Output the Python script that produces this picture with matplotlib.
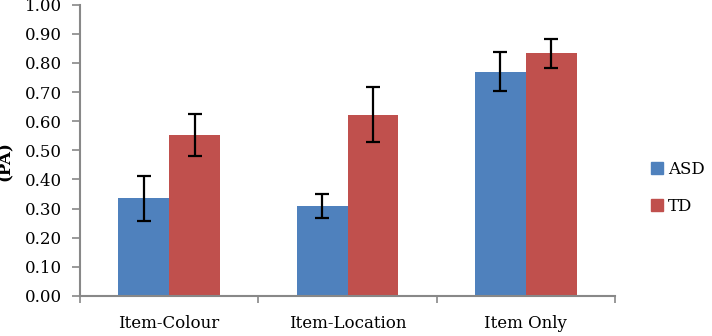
import matplotlib
matplotlib.use("Agg")
import matplotlib.pyplot as plt
import numpy as np
from matplotlib.patches import Patch

categories = ["Item-Colour", "Item-Location", "Item Only"]
asd_values = [0.335, 0.310, 0.770]
td_values = [0.553, 0.623, 0.833]
asd_err = [0.077, 0.041, 0.067]
td_err = [0.072, 0.094, 0.050]
y_ticks = [0.0, 0.1, 0.2, 0.3, 0.4, 0.5, 0.6, 0.7, 0.8, 0.9, 1.0]

blue = "#4F81BD"
red = "#C0504D"
font = "DejaVu Serif"
plt.rcParams["font.family"] = font

fig = plt.figure(figsize=(7.12, 3.36), dpi=100)
ax = fig.add_axes([80/712, 1-296/336, (615-80)/712, (296-4.7)/336])

x = np.arange(len(categories))
w = 0.285
ekw = dict(elinewidth=1.6, capthick=1.6, ecolor="black")
ax.bar(x - w/2, asd_values, w, color=blue, yerr=asd_err, capsize=5, error_kw=ekw, label="ASD")
ax.bar(x + w/2, td_values, w, color=red, yerr=td_err, capsize=5, error_kw=ekw, label="TD")

ax.set_xlim(-0.5, len(categories) - 0.5)
ax.set_ylim(0, 1.0)
ax.set_yticks(y_ticks)
ax.set_yticklabels([f"{v:.2f}" for v in y_ticks], fontsize=12)
ax.set_xticks(np.arange(len(categories) + 1) - 0.5)
ax.set_xticklabels([])
ax.set_xticks(x, minor=True)
ax.set_xticklabels(categories, minor=True, fontsize=12)
ax.tick_params(axis="x", which="minor", length=0, pad=14)
ax.tick_params(axis="x", which="major", length=5, color="#888888", width=1.2)
ax.tick_params(axis="y", length=6, color="#888888", width=1.2, pad=7)

for s in ["top", "right"]:
    ax.spines[s].set_visible(False)
for s in ["left", "bottom"]:
    ax.spines[s].set_color("#888888")
    ax.spines[s].set_linewidth(1.5)

fig.text(-0.004, 1-161/336, "(PA)", rotation=90, ha="left", va="center",
         fontsize=12, fontweight="bold")

handles = [Patch(color=blue, label="ASD"), Patch(color=red, label="TD")]
fig.legend(handles=handles, loc="center left", bbox_to_anchor=(651/712, 1-188/336),
           frameon=False, fontsize=12, handlelength=0.7, handleheight=0.7,
           handletextpad=0.3, labelspacing=1.2, borderpad=0, borderaxespad=0)

fig.savefig("out.png", dpi=100)
